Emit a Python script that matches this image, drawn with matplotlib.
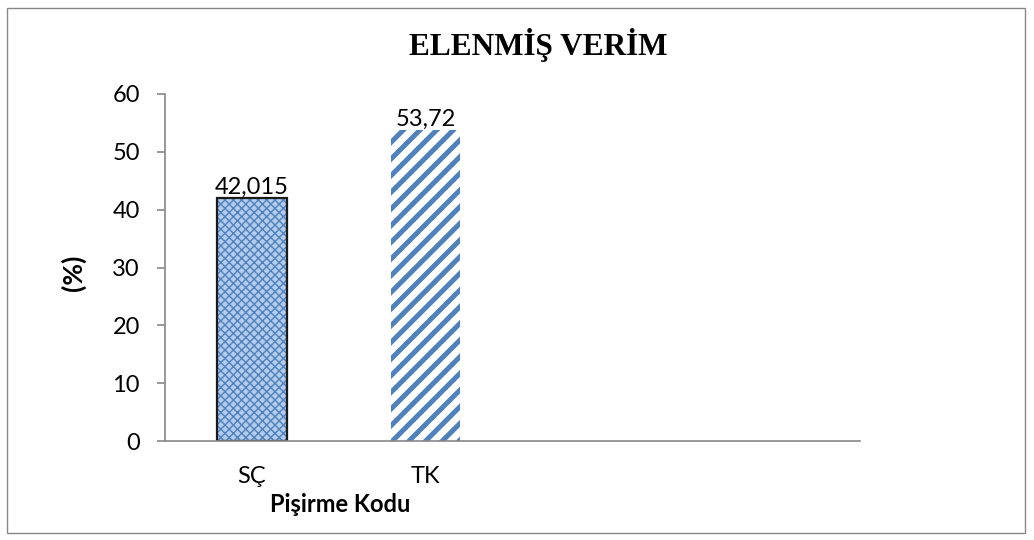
import matplotlib
matplotlib.use("Agg")
import matplotlib.pyplot as plt
from matplotlib.patches import Rectangle

# data
categories = ["SÇ", "TK"]
values = [42.015, 53.72]
value_labels = ["42,015", "53,72"]
n_slots = 4  # Excel axis leaves room for two more empty categories

title = "ELENMİŞ VERİM"
xlabel = "Pişirme Kodu"
ylabel = "(%)"

blue = "#4f81bd"
plt.rcParams["font.family"] = ["Lato", "DejaVu Sans"]

fig = plt.figure(figsize=(10.34, 5.4), dpi=100)
ax = fig.add_axes([165 / 1034, 99 / 540, 695 / 1034, 347 / 540])

x = list(range(len(categories)))
w = 0.4

# SÇ: light blue with a fine blue lattice, black outline
plt.rcParams["hatch.linewidth"] = 1.0
b1 = ax.bar(x[0], values[0], w, color="#b3cbec", edgecolor=blue, hatch="xxxx", linewidth=0)
ax.bar(x[0], values[0], w, fill=False, edgecolor="#1a1a1a", linewidth=1.6)

# TK: white with thick blue diagonal stripes
plt.rcParams["hatch.linewidth"] = 3.6
b2 = ax.bar(x[1], values[1], w, color="white", edgecolor=blue, hatch="//", linewidth=0)
for b, lw in ((b1, 1.0), (b2, 3.6)):
    for p in b:
        if hasattr(p, "set_hatch_linewidth"):
            p.set_hatch_linewidth(lw)

for xi, v, s in zip(x, values, value_labels):
    ax.annotate(s, (xi, v), xytext=(0, 0), textcoords="offset points",
                ha="center", va="bottom", fontsize=17)

ax.set_xlim(-0.5, n_slots - 0.5)
ax.set_ylim(0, 60)
ax.set_yticks(range(0, 61, 10))
ax.set_xticks(x)
ax.set_xticklabels(categories)
ax.tick_params(axis="y", length=6, width=1.2, color="#888888", pad=12, labelsize=17)
ax.tick_params(axis="x", length=0, pad=18, labelsize=17)

for side in ("top", "right"):
    ax.spines[side].set_visible(False)
for side in ("left", "bottom"):
    ax.spines[side].set_color("#888888")
    ax.spines[side].set_linewidth(1.2)

fig.text(538 / 1034, 1 - 45 / 540, title, ha="center", va="center",
         fontsize=22.5, fontweight="bold", family="Liberation Serif")
fig.text(340 / 1034, 1 - 505 / 540, xlabel, ha="center", va="center",
         fontsize=17, fontweight="bold")
fig.text(73 / 1034, 1 - 273 / 540, ylabel, ha="center", va="center",
         fontsize=19, fontweight="bold", rotation=90)

# chart area border
fig.add_artist(Rectangle((7 / 1034, 7 / 540), 1018 / 1034, 525 / 540,
                         transform=fig.transFigure, fill=False,
                         edgecolor="#888888", linewidth=1))

fig.savefig("out.png", dpi=100)
